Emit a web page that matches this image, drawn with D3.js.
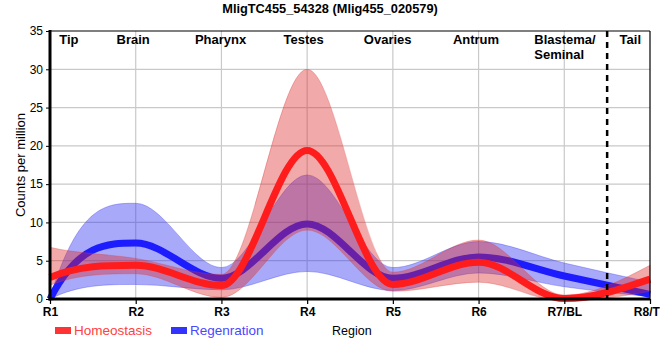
<!DOCTYPE html>
<html><head><meta charset="utf-8">
<script src="https://cdn.jsdelivr.net/npm/d3@7"></script>
<style>
body{margin:0;background:#fff}
svg{display:block;font-family:"Liberation Sans",Arial,sans-serif}
</style>
</head><body>
<svg id="chart" width="660" height="360"></svg>
<script>
// ---- data ----
const regions = ["R1", "R2", "R3", "R4", "R5", "R6", "R7/BL", "R8/TL"];
const homeoMean  = [2.8, 4.4, 1.75, 19.4, 1.9, 4.8, 0.05, 2.6];
const homeoUpper = [6.75, 5.3, 3.2, 30.0, 3.5, 7.7, 0.5, 4.4];
const homeoLower = [1.8, 3.3, 0.2, 9.0, 1.0, 2.2, -0.3, 1.0];
const regenMean  = [0, 7.3, 2.7, 9.8, 2.7, 5.5, 3.0, 0.6];
const regenUpper = [0.1, 12.5, 4.1, 16.2, 4.1, 7.5, 4.7, 2.2];
const regenLower = [0, 1.9, 1.2, 3.6, 1.1, 3.4, 1.6, 0.3];
const yTicks = [0, 5, 10, 15, 20, 25, 30, 35];
const bodyParts = ["Tip", "Brain", "Pharynx", "Testes", "Ovaries", "Antrum", ["Blastema/", "Seminal"], "Tail"];
const seriesNames = ["Homeostasis", "Regenration"];
const title = "MligTC455_54328 (Mlig455_020579)";

// ---- layout ----
const L = 50, R = 650, T = 31, B = 299;
const bodyPartPos = [1.22, 1.97, 2.99, 3.96, 4.94, 5.97, 6.65, 7.77]; // in region units
const bodyPartAnchor = ["middle","middle","middle","middle","middle","middle","start","middle"];

// monotone cubic curve (Fritsch–Carlson interior tangents) with a steeper left end
function curveTuned(context) { return new Tuned(context); }
function Tuned(ctx) { this._context = ctx; }
Tuned.prototype = {
  areaStart() { this._line = 0; },
  areaEnd() { this._line = NaN; },
  lineStart() { this._pts = []; },
  point(x, y) { this._pts.push([+x, +y]); },
  lineEnd() {
    const p = this._pts, n = p.length, c = this._context;
    if (!n) return;
    if (this._line) c.lineTo(p[0][0], p[0][1]); else c.moveTo(p[0][0], p[0][1]);
    if (n > 1) {
      const s = [], m = new Array(n);
      for (let i = 0; i < n - 1; i++) s.push((p[i + 1][1] - p[i][1]) / (p[i + 1][0] - p[i][0]));
      for (let i = 1; i < n - 1; i++) {
        const h0 = p[i][0] - p[i - 1][0], h1 = p[i + 1][0] - p[i][0];
        const q = (s[i - 1] * h1 + s[i] * h0) / (h0 + h1);
        m[i] = (Math.sign(s[i - 1]) + Math.sign(s[i])) *
          Math.min(Math.abs(s[i - 1]), Math.abs(s[i]), 0.5 * Math.abs(q)) || 0;
      }
      const leftFirst = p[0][0] < p[n - 1][0];
      const endSlope = (sec, mi, steep) => n > 2 ? (steep ? 3 * sec - mi : (3 * sec - mi) / 2) : sec;
      m[0] = endSlope(s[0], m[1], leftFirst);
      m[n - 1] = endSlope(s[n - 2], m[n - 2], !leftFirst);
      for (let i = 0; i < n - 1; i++) {
        const dx = (p[i + 1][0] - p[i][0]) / 3;
        c.bezierCurveTo(p[i][0] + dx, p[i][1] + dx * m[i],
                        p[i + 1][0] - dx, p[i + 1][1] - dx * m[i + 1],
                        p[i + 1][0], p[i + 1][1]);
      }
    }
    if (this._line || (this._line !== 0 && n === 1)) c.closePath();
    this._line = 1 - this._line;
  }
};

const svg = d3.select("#chart");
const x = d3.scalePoint().domain(regions).range([L, R]);
const xi = d3.scaleLinear().domain([1, regions.length]).range([L, R]);
const y = d3.scaleLinear().domain([0, 35]).range([B, T]);

// grid
const grid = svg.append("g").attr("stroke", "#c9c9c9").attr("stroke-width", 1.2);
grid.selectAll("line.v").data(regions.slice(1, -1)).join("line")
  .attr("x1", d => x(d)).attr("x2", d => x(d)).attr("y1", T).attr("y2", B);
grid.selectAll("line.h").data(yTicks.slice(1, -1)).join("line")
  .attr("x1", L).attr("x2", R).attr("y1", d => y(d)).attr("y2", d => y(d));

function series(mean, lo, hi) {
  return regions.map((r, i) => ({r, m: mean[i], lo: lo[i], hi: hi[i]}));
}
const homeo = series(homeoMean, homeoLower, homeoUpper);
const regen = series(regenMean, regenLower, regenUpper);

const area = d3.area().x(d => x(d.r)).y0(d => y(d.lo)).y1(d => y(d.hi)).curve(curveTuned);
const line = d3.line().x(d => x(d.r)).y(d => y(d.m)).curve(curveTuned);

// regeneration band + line
svg.append("path").datum(regen).attr("d", area)
  .attr("fill", "rgb(50,50,240)").attr("fill-opacity", 0.42)
  .attr("stroke", "rgb(60,60,240)").attr("stroke-opacity", 0.35).attr("stroke-width", 1);
svg.append("path").datum(regen).attr("d", line)
  .attr("fill", "none").attr("stroke", "#1c1cff").attr("stroke-width", 7);
// homeostasis band + line
svg.append("path").datum(homeo).attr("d", area)
  .attr("fill", "rgb(220,40,40)").attr("fill-opacity", 0.4)
  .attr("stroke", "rgb(220,60,60)").attr("stroke-opacity", 0.3).attr("stroke-width", 1);
svg.append("path").datum(homeo).attr("d", line)
  .attr("fill", "none").attr("stroke", "#ff1c1c").attr("stroke-width", 7);

// dashed separator between R7 and R8
const xd = x(regions[6]) + x.step() / 2;
svg.append("line").attr("x1", xd).attr("x2", xd).attr("y1", T).attr("y2", B)
  .attr("stroke", "#000").attr("stroke-width", 2.5).attr("stroke-dasharray", "6,5");

// frame
svg.append("line").attr("x1", L).attr("x2", R).attr("y1", T).attr("y2", T).attr("stroke", "#000").attr("stroke-width", 1.2);
svg.append("line").attr("x1", R).attr("x2", R).attr("y1", T).attr("y2", B).attr("stroke", "#000").attr("stroke-width", 1.2);

// y axis
const ya = svg.append("g").attr("transform", `translate(${L},0)`)
  .call(d3.axisLeft(y).tickValues(yTicks).tickSize(4).tickPadding(3));
ya.select(".domain").remove();
ya.selectAll(".tick line").attr("stroke", "#000").attr("stroke-width", 1);
ya.selectAll(".tick text").attr("font-size", 12).attr("fill", "#000").attr("font-family", "Liberation Sans, Arial, sans-serif");
svg.append("line").attr("x1", L).attr("x2", L).attr("y1", T - 1).attr("y2", B + 1.5).attr("stroke", "#000").attr("stroke-width", 3);

// x axis
const xa = svg.append("g").attr("transform", `translate(0,${B})`)
  .call(d3.axisBottom(x).tickSize(5).tickPadding(3));
xa.select(".domain").remove();
xa.selectAll(".tick line").attr("stroke", "#000").attr("stroke-width", 1.2);
xa.selectAll(".tick text").attr("font-size", 12).attr("font-weight", "bold").attr("fill", "#000").attr("font-family", "Liberation Sans, Arial, sans-serif");
svg.append("line").attr("x1", L - 1.5).attr("x2", R).attr("y1", B).attr("y2", B).attr("stroke", "#000").attr("stroke-width", 3);

// body-part labels at top
bodyParts.forEach((lab, i) => {
  const t = svg.append("text").attr("x", xi(bodyPartPos[i])).attr("y", 44)
    .attr("font-size", 13).attr("font-weight", "bold").attr("fill", "#000")
    .attr("text-anchor", bodyPartAnchor[i]);
  const lines = Array.isArray(lab) ? lab : [lab];
  lines.forEach((s, j) => t.append("tspan").attr("x", xi(bodyPartPos[i])).attr("dy", j ? 14.5 : 0).text(s));
});

// title
svg.append("text").attr("x", 330).attr("y", 13).attr("text-anchor", "middle")
  .attr("font-size", 12.8).attr("font-weight", "bold").text(title);

// axis titles
svg.append("text").attr("transform", `translate(24.5,${(T + B) / 2}) rotate(-90)`)
  .attr("text-anchor", "middle").attr("font-size", 13).text("Counts per million");
svg.append("text").attr("x", 332).attr("y", 335).attr("font-size", 12.5).text("Region");

// legend
const legendColors = ["#ff3333", "#3333ff"];
const legendTextColors = ["#ff4040", "#4848ff"];
const legendX = [55, 171];
seriesNames.forEach((n, i) => {
  svg.append("rect").attr("x", legendX[i]).attr("y", 327).attr("width", 16).attr("height", 7).attr("fill", legendColors[i]);
  svg.append("text").attr("x", legendX[i] + 19).attr("y", 335).attr("font-size", 13.5)
    .attr("fill", legendTextColors[i]).text(n);
});
</script>
</body></html>
